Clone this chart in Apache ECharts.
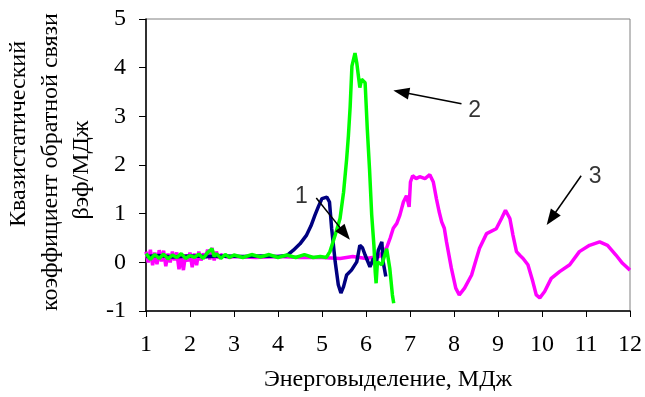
<!DOCTYPE html>
<html>
<head>
<meta charset="utf-8">
<script src="https://cdn.jsdelivr.net/npm/echarts@6.0.0/dist/echarts.min.js"></script>
<style>
  html, body { margin: 0; padding: 0; background: #fff; }
  #chart { width: 645px; height: 397px; }
</style>
</head>
<body>
<div id="chart"></div>
<script>
// кривая 1 (тёмно-синяя)
const curve1 = [
  [1.0, 0.12], [1.3, 0.14], [1.6, 0.11], [2.0, 0.13], [2.4, 0.12], [2.8, 0.13],
  [3.2, 0.12], [3.6, 0.13], [4.0, 0.12], [4.2, 0.14], [4.35, 0.25], [4.5, 0.38],
  [4.65, 0.56], [4.75, 0.75], [4.84, 0.97], [4.92, 1.15], [5.0, 1.31], [5.11, 1.34],
  [5.17, 1.24], [5.22, 0.69], [5.3, 0.01], [5.37, -0.46], [5.43, -0.63], [5.49, -0.5],
  [5.56, -0.26], [5.67, -0.16], [5.79, 0.01], [5.86, 0.35], [5.92, 0.3], [5.98, 0.15],
  [6.09, -0.09], [6.17, 0.08], [6.24, 0.01], [6.28, 0.25], [6.36, 0.42], [6.39, 0.01],
  [6.45, -0.29]
];

// кривая 2 (зелёная)
const curve2 = [
  [1.0, 0.18], [1.1, 0.06], [1.2, 0.16], [1.3, 0.08], [1.4, 0.17], [1.5, 0.07],
  [1.6, 0.15], [1.7, 0.1], [1.8, 0.18], [1.9, 0.08], [2.0, 0.14], [2.1, 0.1],
  [2.2, 0.17], [2.3, 0.08], [2.4, 0.2], [2.5, 0.28], [2.55, 0.12], [2.6, 0.18],
  [2.7, 0.08], [2.8, 0.16], [2.9, 0.1], [3.0, 0.15], [3.2, 0.1], [3.4, 0.16],
  [3.6, 0.11], [3.8, 0.16], [4.0, 0.1], [4.2, 0.15], [4.4, 0.1], [4.6, 0.16],
  [4.8, 0.1], [4.96, 0.12], [5.1, 0.1], [5.18, 0.22], [5.3, 0.56], [5.41, 0.9],
  [5.49, 1.44], [5.56, 2.12], [5.6, 2.6], [5.64, 3.2], [5.68, 4.03], [5.75, 4.3],
  [5.79, 4.1], [5.86, 3.59], [5.9, 3.76], [5.98, 3.69], [6.03, 2.73], [6.08, 1.92],
  [6.13, 0.97], [6.18, 0.35], [6.21, -0.2], [6.23, -0.43], [6.26, 0.01], [6.36, -0.05],
  [6.47, 0.28], [6.54, -0.12], [6.6, -0.67], [6.63, -0.84]
];

// кривая 3 (пурпурная)
const curve3 = [
  [1.0, 0.22], [1.05, 0.0], [1.1, 0.26], [1.15, -0.06], [1.2, 0.2], [1.25, -0.04],
  [1.3, 0.25], [1.35, 0.02], [1.4, 0.24], [1.45, -0.08], [1.5, 0.18], [1.55, 0.0],
  [1.6, 0.22], [1.65, 0.04], [1.7, 0.2], [1.75, -0.14], [1.8, 0.12], [1.85, -0.16],
  [1.9, 0.16], [1.95, 0.02], [2.0, 0.2], [2.05, -0.1], [2.1, 0.18], [2.15, -0.06],
  [2.2, 0.22], [2.25, 0.04], [2.3, 0.18], [2.35, 0.08], [2.4, 0.26], [2.45, 0.06],
  [2.5, 0.3], [2.55, 0.04], [2.6, 0.22], [2.65, 0.08], [2.7, 0.16], [2.8, 0.12],
  [2.9, 0.1], [3.0, 0.12], [3.5, 0.1], [4.0, 0.12], [4.5, 0.1], [5.0, 0.1],
  [5.41, 0.08], [5.7, 0.12], [6.0, 0.08], [6.3, 0.12], [6.47, 0.3], [6.55, 0.5],
  [6.62, 0.7], [6.7, 0.8], [6.77, 0.97], [6.85, 1.24], [6.92, 1.37], [6.98, 1.14],
  [7.01, 1.65], [7.06, 1.78], [7.14, 1.72], [7.22, 1.76], [7.34, 1.72], [7.45, 1.8],
  [7.53, 1.65], [7.6, 1.31], [7.66, 1.05], [7.72, 0.83], [7.78, 0.7], [7.83, 0.42],
  [7.94, -0.12], [8.04, -0.53], [8.12, -0.67], [8.24, -0.53], [8.4, -0.26], [8.5, 0.05],
  [8.58, 0.29], [8.74, 0.59], [8.96, 0.69], [9.08, 0.9], [9.17, 1.07], [9.27, 0.9],
  [9.34, 0.56], [9.42, 0.22], [9.5, 0.14], [9.57, 0.08], [9.68, -0.05], [9.79, -0.39],
  [9.87, -0.67], [9.95, -0.73], [10.06, -0.6], [10.21, -0.33], [10.4, -0.19], [10.63, -0.05],
  [10.85, 0.22], [11.08, 0.35], [11.31, 0.42], [11.49, 0.35], [11.68, 0.15], [11.83, -0.02],
  [12.0, -0.16]
];

// стрелки с номерами кривых (в единицах осей)
const arrowLabels = ['1', '2', '3'];
const arrowFrom = [[4.87, 1.32], [8.17, 3.26], [10.89, 1.78]];
const arrowTo = [[5.52, 0.59], [6.8, 3.5], [10.21, 0.9]];
const labelAt = [[4.53, 1.35], [8.47, 3.11], [11.21, 1.77]];

const serif = 'Liberation Serif';

const chart = echarts.init(document.getElementById('chart'));

function lineSeries(data, color) {
  return {
    type: 'line',
    data: data,
    showSymbol: false,
    symbol: 'none',
    lineStyle: { color: color, width: 3.5 },
    itemStyle: { color: color },
    silent: true
  };
}

function titleLine(text, x, y) {
  return {
    type: 'text', x: x, y: y, rotation: Math.PI / 2,
    style: {
      text: text, font: '24px "Liberation Serif"', fill: '#000',
      textAlign: 'center', textVerticalAlign: 'middle', align: 'center', verticalAlign: 'middle'
    }
  };
}

const option = {
  animation: false,
  backgroundColor: '#fff',
  grid: {
    left: 146,
    right: 14,
    top: 19,
    bottom: 84,
    show: true,
    borderColor: '#808080',
    borderWidth: 1
  },
  xAxis: {
    type: 'value',
    min: 1,
    max: 12,
    interval: 1,
    name: 'Энерговыделение, МДж',
    nameLocation: 'middle',
    nameGap: 57,
    nameTextStyle: { fontFamily: serif, fontSize: 24, color: '#000' },
    axisLine: { onZero: false, lineStyle: { color: '#000', width: 1.5 } },
    axisTick: { show: true, length: 6, lineStyle: { color: '#000' } },
    axisLabel: { fontFamily: serif, fontSize: 24, color: '#000', margin: 22 },
    splitLine: { show: false }
  },
  yAxis: {
    type: 'value',
    min: -1,
    max: 5,
    interval: 1,
    axisLine: { show: true, onZero: false, lineStyle: { color: '#000', width: 1.5 } },
    axisTick: { show: true, length: 7, lineStyle: { color: '#000' } },
    axisLabel: { fontFamily: serif, fontSize: 24, color: '#000', margin: 20 },
    splitLine: { show: false }
  },
  graphic: [
    titleLine('Квазистатический', 19, 134),
    titleLine('коэффициент обратной связи', 51, 162),
    titleLine('βэф/МДж', 82, 170)
  ],
  series: [
    lineSeries(curve3, '#ff00ff'),
    lineSeries(curve1, '#000080'),
    lineSeries(curve2, '#00ff00'),
    {
      type: 'scatter',
      silent: true,
      symbolSize: 0,
      data: labelAt.map((p, i) => [p[0], p[1], arrowLabels[i]]),
      label: {
        show: true,
        position: 'inside',
        formatter: (p) => p.value[2],
        fontFamily: 'Liberation Sans',
        fontSize: 23,
        color: '#000'
      },
      markLine: {
        silent: true,
        symbol: ['none', 'triangle'],
        symbolSize: [12, 16],
        label: { show: false },
        lineStyle: { color: '#000', width: 1.5, type: 'solid' },
        data: arrowFrom.map((p, i) => [{ coord: p }, { coord: arrowTo[i] }])
      }
    }
  ]
};

chart.setOption(option);
</script>
</body>
</html>
